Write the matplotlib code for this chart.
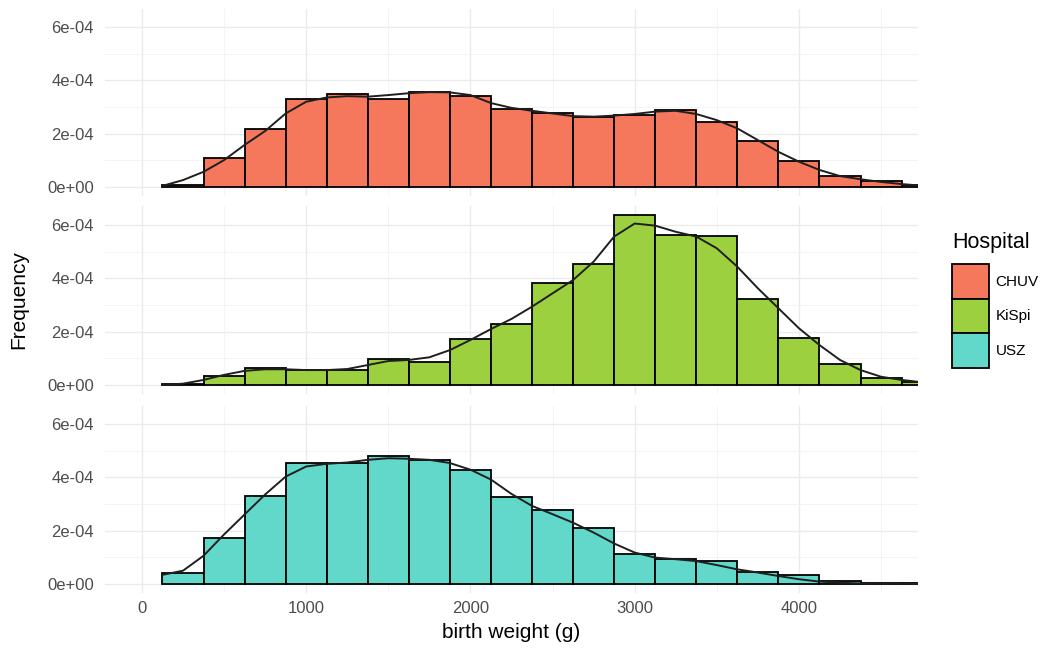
import matplotlib
matplotlib.use("Agg")
import matplotlib.pyplot as plt
from matplotlib.patches import Patch
from matplotlib.ticker import FuncFormatter

# histogram bins (binwidth 250 g, centred on multiples of 250)
bin_centers = [250, 500, 750, 1000, 1250, 1500, 1750, 2000, 2250, 2500,
               2750, 3000, 3250, 3500, 3750, 4000, 4250, 4500, 4750]

hospitals = ["CHUV", "KiSpi", "USZ"]
fills = ["#F5785C", "#9CD03E", "#62D8CB"]

# bar heights (density, x 1e-4)
chuv_hist = [0.08, 1.08, 2.17, 3.29, 3.49, 3.30, 3.56, 3.41, 2.94, 2.77,
             2.64, 2.70, 2.89, 2.45, 1.73, 0.99, 0.42, 0.24, 0.08]
kispi_hist = [0.03, 0.35, 0.63, 0.55, 0.55, 0.96, 0.85, 1.71, 2.29, 3.82,
              4.53, 6.38, 5.63, 5.59, 3.23, 1.78, 0.79, 0.27, 0.12]
usz_hist = [0.41, 1.71, 3.30, 4.53, 4.53, 4.81, 4.66, 4.29, 3.28, 2.77,
            2.10, 1.14, 0.92, 0.85, 0.45, 0.35, 0.10, 0.04, 0.02]

# kernel density curves (x 1e-4)
dens_x = [130, 250, 375, 500, 625, 750, 875, 1000, 1125, 1250, 1375, 1500,
          1625, 1750, 1875, 2000, 2125, 2250, 2375, 2500, 2625, 2750, 2875,
          3000, 3125, 3250, 3375, 3500, 3625, 3750, 3875, 4000, 4125, 4250,
          4375, 4500, 4625, 4725]
chuv_dens = [0.05, 0.26, 0.57, 1.01, 1.58, 2.10, 2.76, 3.20, 3.36, 3.41,
             3.39, 3.45, 3.52, 3.56, 3.55, 3.45, 3.15, 2.97, 2.86, 2.76,
             2.66, 2.64, 2.68, 2.74, 2.83, 2.86, 2.74, 2.51, 2.20, 1.76,
             1.32, 0.95, 0.64, 0.41, 0.29, 0.19, 0.11, 0.06]
kispi_dens = [0.00, 0.05, 0.19, 0.38, 0.53, 0.59, 0.59, 0.56, 0.56, 0.60,
              0.75, 0.90, 0.94, 1.04, 1.31, 1.69, 2.10, 2.48, 2.94, 3.44,
              3.94, 4.63, 5.57, 6.06, 5.98, 5.75, 5.57, 5.13, 4.44, 3.63,
              2.88, 2.13, 1.50, 0.94, 0.56, 0.31, 0.19, 0.12]
usz_dens = [0.35, 0.50, 1.06, 1.86, 2.61, 3.36, 4.03, 4.41, 4.51, 4.56,
            4.66, 4.72, 4.70, 4.66, 4.54, 4.29, 3.92, 3.38, 2.93, 2.62,
            2.30, 1.93, 1.52, 1.18, 0.99, 0.93, 0.86, 0.71, 0.55, 0.43,
            0.30, 0.18, 0.09, 0.05, 0.02, 0.01, 0.01, 0.00]

hists = [chuv_hist, kispi_hist, usz_hist]
denss = [chuv_dens, kispi_dens, usz_dens]

x_major = [0, 1000, 2000, 3000, 4000]
x_minor = [500, 1500, 2500, 3500, 4500]
y_major = [0, 2e-4, 4e-4, 6e-4]
y_minor = [1e-4, 3e-4, 5e-4]

plt.rcParams["font.family"] = ["Liberation Sans", "DejaVu Sans"]

W, H = 1050, 649
fig = plt.figure(figsize=(W / 100, H / 100), dpi=100)

# shared y range with 5% padding, x limits 0..4500 padded 5%
ymax = max(max(h) for h in hists) * 1e-4
ypad = 0.05 * ymax
xlim = (0 - 225, 4500 + 225)

left, right = 105, 918
tops = [8.5, 206.5, 405.5]
ph = 187

for i, (name, col, hv, dv) in enumerate(zip(hospitals, fills, hists, denss)):
    ax = fig.add_axes([left / W, 1 - (tops[i] + ph) / H, (right - left) / W, ph / H])
    ax.bar(bin_centers, [v * 1e-4 for v in hv], width=250, color=col,
           edgecolor="black", linewidth=1.3, zorder=2)
    ax.plot(dens_x, [v * 1e-4 for v in dv], color="#1f1f1f", lw=1.4, zorder=3)
    ax.set_xlim(*xlim)
    ax.set_ylim(-ypad, ymax + ypad)
    ax.set_xticks(x_major)
    ax.set_xticks(x_minor, minor=True)
    ax.set_yticks(y_major)
    ax.set_yticks(y_minor, minor=True)
    ax.yaxis.set_major_formatter(FuncFormatter(lambda v, p: f"{v:.0e}"))
    ax.grid(which="major", color="#EBEBEB", lw=1.0, zorder=0)
    ax.grid(which="minor", color="#F2F2F2", lw=0.6, zorder=0)
    ax.set_axisbelow(True)
    for s in ax.spines.values():
        s.set_visible(False)
    ax.tick_params(which="both", length=0)
    ax.tick_params(axis="y", labelsize=12, labelcolor="#4D4D4D", pad=8)
    ax.tick_params(axis="x", labelsize=12, labelcolor="#4D4D4D", pad=6)
    if i < 2:
        ax.tick_params(axis="x", labelbottom=False)

fig.text(0.5 * (left + right) / W, 1 - 633 / H, "birth weight (g)",
         ha="center", va="center", fontsize=15)
fig.text(19 / W, 1 - 300 / H, "Frequency", rotation=90,
         ha="center", va="center", fontsize=15)

# legend: title placed separately to leave a gap above the keys
fig.text(952 / W, 1 - 243 / H, "Hospital", ha="left", va="center", fontsize=15.5)
handles = [Patch(facecolor=c, edgecolor="black", linewidth=1.3) for c in fills]
fig.legend(handles, hospitals, loc="upper left",
           bbox_to_anchor=(952 / W, 1 - 264 / H), frameon=False,
           fontsize=11, handlelength=2.4,
           handleheight=3.1, labelspacing=0.0, handletextpad=0.45,
           borderpad=0, borderaxespad=0)

fig.savefig("out.png", dpi=100)
